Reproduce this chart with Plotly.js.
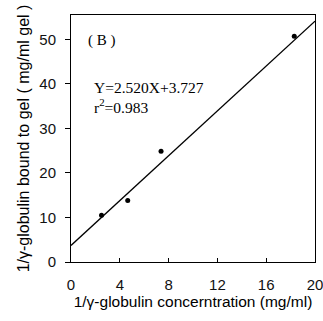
<!DOCTYPE html>
<html><head><meta charset="utf-8">
<script src="https://cdn.plot.ly/plotly-3.0.1.min.js"></script>
<style>body{margin:0;background:#fff}#plot{width:323px;height:321px}</style>
</head><body><div id="plot"></div>
<script>
const xData = [2.5, 4.65, 7.38, 18.3];
const yData = [10.5, 13.8, 24.9, 50.7];
const slope = 2.520, intercept = 3.727;
const fitX = [0, 20];
const fitY = fitX.map(x => slope * x + intercept);
const xTicks = [0, 4, 8, 12, 16, 20];
const yTicks = [0, 10, 20, 30, 40, 50];

const traces = [
  {x: fitX, y: fitY, mode: 'lines', line: {color: '#000', width: 1.3}, hoverinfo: 'skip'},
  {x: xData, y: yData, mode: 'markers', marker: {color: '#000', size: 5}}
];
const layout = {
  width: 323, height: 321,
  margin: {l: 71, r: 8, t: 15, b: 59},
  showlegend: false,
  paper_bgcolor: '#fff', plot_bgcolor: '#fff',
  font: {family: 'Liberation Sans, Arial, sans-serif', color: '#000'},
  xaxis: {
    range: [0, 20], tickvals: xTicks, ticks: 'inside', ticklen: 4, tickcolor: '#000',
    showgrid: false, zeroline: false, showline: true, linecolor: '#000', linewidth: 1, mirror: true,
    tickfont: {size: 15, color: '#111'}, ticklabelstandoff: 9, ticklabeloverflow: 'allow',
    title: {text: '1/γ-globulin concerntration (mg/ml)', font: {size: 15.5}, standoff: 4}
  },
  yaxis: {
    range: [0, 55.5], tickvals: yTicks, ticks: 'outside', ticklen: 5, tickcolor: '#000',
    showgrid: false, zeroline: false, showline: true, linecolor: '#000', linewidth: 1, mirror: true,
    tickfont: {size: 15, color: '#111'}, ticklabelstandoff: 6, ticklabeloverflow: 'allow',
    title: {text: '1/γ-globulin bound to gel ( mg/ml gel )', font: {size: 16}, standoff: 5}
  },
  annotations: [
    {x: 1.2, y: 49.8, xref: 'x', yref: 'y', text: '( B )', showarrow: false, xanchor: 'left',
     font: {family: 'Liberation Serif, serif', size: 15}},
    {x: 1.75, y: 39.2, xref: 'x', yref: 'y', text: 'Y=2.520X+3.727', showarrow: false, xanchor: 'left',
     font: {family: 'Liberation Serif, serif', size: 15.5}},
    {x: 1.75, y: 35.0, xref: 'x', yref: 'y', text: 'r<sup>2</sup>=0.983', showarrow: false, xanchor: 'left',
     font: {family: 'Liberation Serif, serif', size: 15.5}}
  ]
};
Plotly.newPlot('plot', traces, layout, {displayModeBar: false, staticPlot: true});
</script></body></html>
